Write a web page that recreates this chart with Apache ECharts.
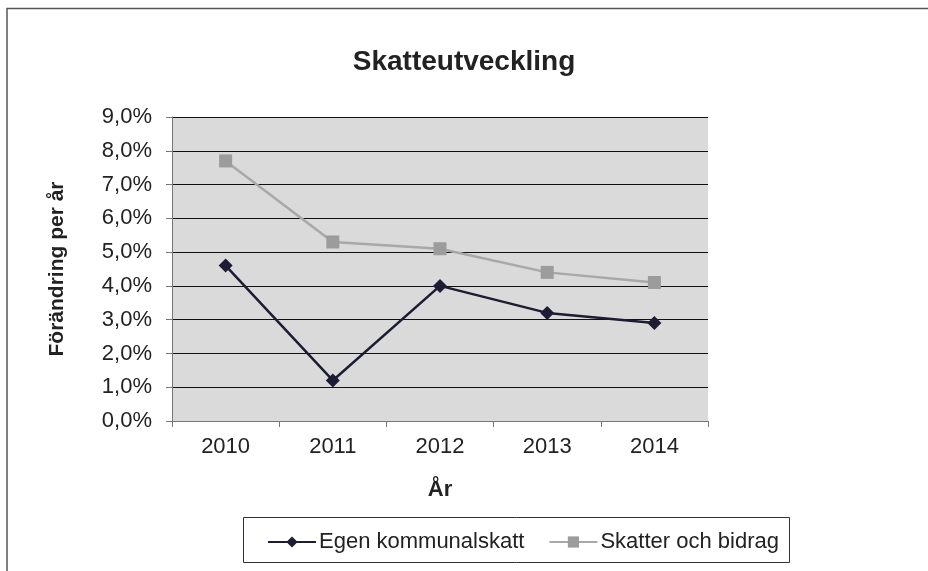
<!DOCTYPE html>
<html>
<head>
<meta charset="utf-8">
<style>
  html, body { margin: 0; padding: 0; background: #fff; }
  #chart { width: 928px; height: 571px; }
</style>
<script src="https://cdn.jsdelivr.net/npm/echarts@6/dist/echarts.min.js"></script>
</head>
<body>
<div id="chart"></div>
<script>
  // values, in percent
  const years = ['2010', '2011', '2012', '2013', '2014'];
  const egenKommunalskatt = [4.6, 1.2, 4.0, 3.2, 2.9];
  const skatterOchBidrag = [7.7, 5.3, 5.1, 4.4, 4.1];

  const font = '"Liberation Sans", Arial, sans-serif';
  const pct = v => v.toFixed(1).replace('.', ',') + '%';

  const chart = echarts.init(document.getElementById('chart'));

  chart.setOption({
    animation: false,
    textStyle: { fontFamily: font },
    title: {
      text: 'Skatteutveckling',
      left: 'center',
      top: 43,
      textStyle: { fontFamily: font, fontSize: 28, fontWeight: 'bold', color: '#222' }
    },
    // frame and legend box as in the original
    graphic: [
      {
        type: 'polyline',
        shape: { points: [[7, 571], [7, 8.5], [928, 8.5]] },
        style: { stroke: '#555', lineWidth: 1.5, fill: null }
      },
      {
        type: 'rect',
        shape: { x: 243.5, y: 517.5, width: 546, height: 45 },
        style: { stroke: '#333', lineWidth: 1, fill: '#fff' },
        z: -1
      }
    ],
    legend: {
      left: 262,
      top: 526,
      itemWidth: 48,
      itemHeight: 14,
      itemGap: 24,
      textStyle: { fontFamily: font, fontSize: 22, color: '#222', padding: [0, 0, 0, -2] },
      data: ['Egen kommunalskatt', 'Skatter och bidrag']
    },
    grid: { left: 172, right: 220, top: 117, bottom: 150, containLabel: false },
    xAxis: {
      type: 'category',
      data: years,
      boundaryGap: true,
      name: 'År',
      nameLocation: 'middle',
      nameGap: 58,
      nameTextStyle: { fontFamily: font, fontSize: 22, fontWeight: 'bold', color: '#222' },
      axisLine: { lineStyle: { color: '#777', width: 1 } },
      axisTick: { show: true, length: 6, inside: false, lineStyle: { color: '#777' } },
      axisLabel: { fontFamily: font, fontSize: 22, color: '#222', margin: 15 }
    },
    yAxis: {
      type: 'value',
      min: 0,
      max: 9,
      interval: 1,
      name: 'Förändring per år',
      nameLocation: 'middle',
      nameGap: 104,
      nameTextStyle: { fontFamily: font, fontSize: 21, fontWeight: 'bold', color: '#222' },
      axisLine: { show: true, lineStyle: { color: '#777', width: 1 } },
      axisTick: { show: true, length: 6, lineStyle: { color: '#777' } },
      axisLabel: { fontFamily: font, fontSize: 22, color: '#222', margin: 20, formatter: pct },
      splitLine: { show: true, lineStyle: { color: '#111', width: 1 } },
      splitArea: { show: true, areaStyle: { color: ['#dadada', '#dadada'] } }
    },
    series: [
      {
        name: 'Egen kommunalskatt',
        type: 'line',
        data: egenKommunalskatt,
        symbol: 'diamond',
        symbolSize: 14,
        lineStyle: { color: '#1c1c33', width: 2.5 },
        itemStyle: { color: '#1c1c33' },
        z: 3
      },
      {
        name: 'Skatter och bidrag',
        type: 'line',
        data: skatterOchBidrag,
        symbol: 'rect',
        symbolSize: 13,
        lineStyle: { color: '#a8a8a8', width: 2.5 },
        itemStyle: { color: '#9c9c9c' },
        z: 2
      }
    ]
  });
</script>
</body>
</html>
